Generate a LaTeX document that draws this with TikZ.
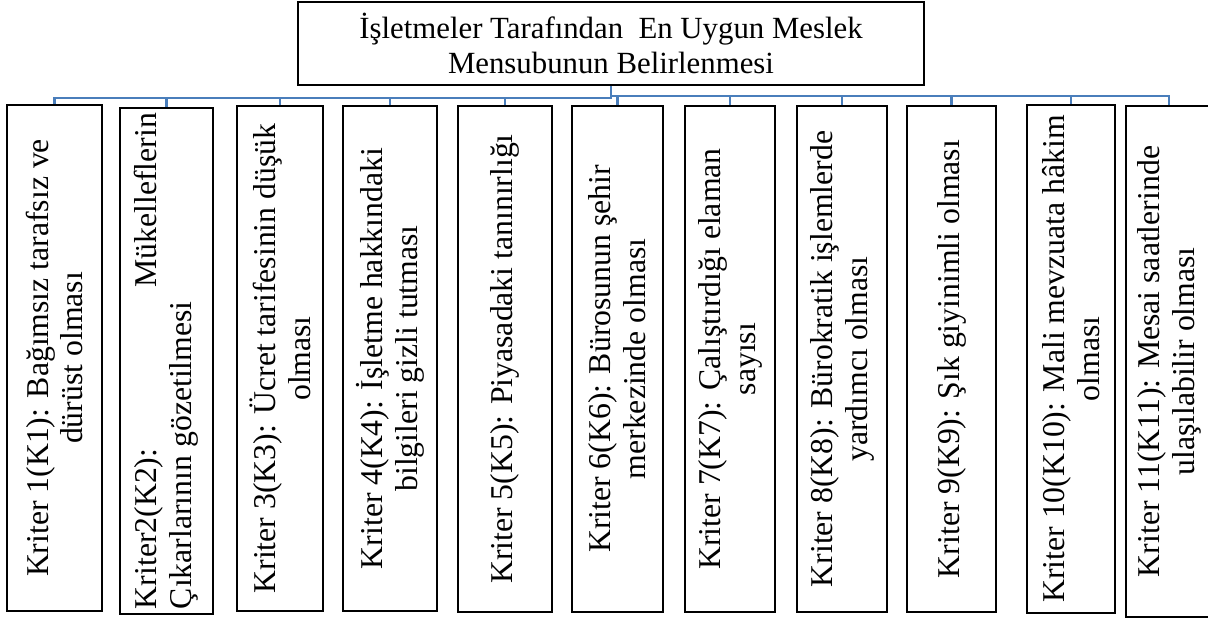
\documentclass[tikz,border=0pt]{standalone}
\usepackage{fontspec}
\setmainfont{Liberation Serif}
\definecolor{busblue}{RGB}{74,126,187}
\newcommand\kfont{\fontsize{23.8pt}{26.2pt}\selectfont}
\newcommand\tfont{\fontsize{23.1pt}{26pt}\selectfont}
\newcommand\critbox[6]{\node[kbox, minimum width=#4*0.75pt, minimum height=#5*0.75pt] (#1) at (#2,#3) {#6};}
\begin{document}
\begin{tikzpicture}[x=0.75pt,y=-0.75pt,
  kbox/.style={draw=black, line width=2pt, rotate=90, inner sep=0pt, align=center, font=\kfont},
  titlebox/.style={draw=black, line width=2pt, inner sep=0pt, align=center, font=\tfont},
  bus/.style={draw=busblue, line width=1.7pt}]
\useasboundingbox (0,0) rectangle (1208,618);
\node[titlebox, minimum width=469.5pt, minimum height=62.25pt] (top) at (611,43.5)
  {İşletmeler Tarafından\ \ En Uygun Meslek\\Mensubunun Belirlenmesi};
\critbox{k1}{54.5}{358}{506}{95}{Kriter 1(K1): Bağımsız tarafsız ve\\dürüst olması}
\node[kbox, align=left, minimum width=379.5pt, minimum height=69.75pt] (k2) at (166.5,361)
  {\makebox[372pt]{Kriter2(K2):\hfill Mükelleflerin}\\Çıkarlarının gözetilmesi};
\critbox{k3}{280}{358.5}{505}{86}{Kriter 3(K3): Ücret tarifesinin düşük\\olması}
\critbox{k4}{390}{358.5}{505}{94}{Kriter 4(K4): İşletme hakkındaki\\bilgileri gizli tutması}
\critbox{k5}{505}{359}{506}{94}{Kriter 5(K5): Piyasadaki tanınırlığı}
\critbox{k6}{617.5}{359}{506}{91}{Kriter 6(K6): Bürosunun şehir\\merkezinde olması}
\critbox{k7}{730}{359}{506}{90}{Kriter 7(K7): Çalıştırdığı elaman\\sayısı}
\critbox{k8}{842}{359}{506}{90}{Kriter 8(K8): Bürokratik işlemlerde\\yardımcı olması}
\critbox{k9}{951.5}{359}{506}{89}{Kriter 9(K9): Şık giyinimli olması}
\critbox{k10}{1071}{359}{508}{88}{Kriter 10(K10): Mali mevzuata hâkim\\olması}
\critbox{k11}{1169}{361.5}{511}{86}{Kriter 11(K11): Mesai saatlerinde\\ulaşılabilir olması}
\foreach \k in {k1,k2,k3,k4,k5}
  \draw[bus] (top.south) -- ++(0,12) -| (\k.east);
\foreach \k in {k6,k7,k8,k9,k10,k11}
  \draw[bus] (top.south) -- ++(0,10) -| (\k.east);
\end{tikzpicture}
\end{document}
